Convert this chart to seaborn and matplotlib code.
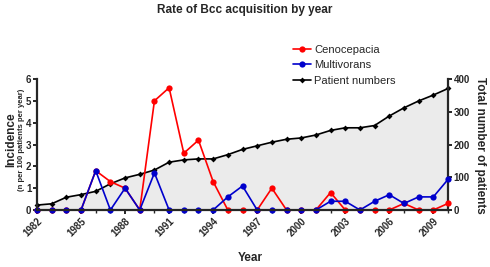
import numpy as np
import pandas as pd
import matplotlib
matplotlib.use("Agg")
import matplotlib.pyplot as plt
import seaborn as sns
from matplotlib.ticker import MultipleLocator

years = list(range(1982, 2011))
cenocepacia = [0, 0, 0, 0, 1.8, 1.3, 1.0, 0, 5.0, 5.6, 2.6, 3.2, 1.3, 0, 0,
               0, 1.0, 0, 0, 0, 0.8, 0, 0, 0, 0, 0.3, 0, 0, 0.3]
multivorans = [0, 0, 0, 0, 1.8, 0, 1.0, 0, 1.7, 0, 0, 0, 0, 0.6, 1.1,
               0, 0, 0, 0, 0, 0.4, 0.4, 0, 0.4, 0.7, 0.3, 0.6, 0.6, 1.4]
patients = [15, 19, 39, 47, 57, 80, 98, 109, 122, 146, 153, 156, 156, 169, 185,
            196, 207, 216, 220, 229, 243, 251, 251, 258, 287, 312, 333, 351, 371]
xtick_years = list(range(1982, 2010, 3))

sns.set_style("ticks")
plt.rcParams['font.family'] = ['Liberation Sans', 'DejaVu Sans']
plt.rcParams['font.weight'] = 'bold'

df = pd.DataFrame({"year": years, "Cenocepacia": cenocepacia,
                   "Multivorans": multivorans, "Patient numbers": patients})

fig = plt.figure(figsize=(4.90, 2.67), dpi=100)
ax = fig.add_axes([37/490, 1-210/267, (448-37)/490, (210-79)/267])
ax2 = ax.twinx()
ax.set_zorder(ax2.get_zorder() + 1)
ax.patch.set_visible(False)

ax2.fill_between(df["year"], df["Patient numbers"], 0, color="#ebebeb", zorder=0)
sns.lineplot(data=df, x="year", y="Patient numbers", ax=ax2, color="black",
             marker="D", markersize=3, markeredgewidth=0, linewidth=1.2,
             clip_on=False, label="Patient numbers", legend=False)
sns.lineplot(data=df, x="year", y="Cenocepacia", ax=ax, color="#ff0000",
             marker="o", markersize=4.5, markeredgewidth=0, linewidth=1.2,
             clip_on=False, label="Cenocepacia", legend=False)
sns.lineplot(data=df, x="year", y="Multivorans", ax=ax, color="#0000cc",
             marker="o", markersize=4.5, markeredgewidth=0, linewidth=1.2,
             clip_on=False, label="Multivorans", legend=False)

ax.set_xlim(1982, 2010)
ax.set_ylim(0, 6)
ax2.set_ylim(0, 400)
ax.set_yticks(range(0, 7))
ax2.set_yticks(range(0, 401, 100))
ax.set_xticks(xtick_years)
ax.xaxis.set_minor_locator(MultipleLocator(1))

for a in (ax, ax2):
    for s in a.spines.values():
        s.set_linewidth(1.6)
    a.spines['top'].set_visible(False)
ax.spines['right'].set_visible(False)
ax2.spines['left'].set_visible(False)
ax2.spines['bottom'].set_visible(False)

ax.tick_params(axis='both', which='major', labelsize=7, width=1.4, length=3, pad=1)
ax.tick_params(axis='x', which='minor', width=1, length=2)
ax2.tick_params(axis='y', labelsize=7, width=1.4, length=3, pad=1)
plt.setp(ax.get_xticklabels(), rotation=45, ha='right', rotation_mode='anchor', fontweight='bold')
plt.setp(ax.get_yticklabels(), fontweight='bold')
plt.setp(ax2.get_yticklabels(), fontweight='bold')

ax.set_xlabel("")
ax.set_ylabel("")
ax2.set_ylabel("")

fig.text(0.5, 1-10/267, "Rate of Bcc acquisition by year", ha='center', va='center',
         fontsize=8.5, fontweight='bold')
fig.text(250/490, 1-258/267, "Year", ha='center', va='center', fontsize=8.5, fontweight='bold')
fig.text(11/490, 1-140/267, "Incidence", rotation=90, ha='center', va='center',
         fontsize=8.5, fontweight='bold')
fig.text(22/490, 1-140/267, "(n per 100 patients per year)", rotation=90, ha='center',
         va='center', fontsize=5.5, fontweight='bold')
fig.text(480/490, 1-145/267, "Total number of patients", rotation=270, ha='center',
         va='center', fontsize=8.5, fontweight='bold')

handles = ax.get_lines()[:2] + ax2.get_lines()[:1]
labels = ["Cenocepacia", "Multivorans", "Patient numbers"]
fig.legend(handles, labels, loc='upper left', bbox_to_anchor=(293/490, 1-45/267),
           frameon=False, handlelength=1.6, handletextpad=0.3,
           labelspacing=0.48, borderaxespad=0, borderpad=0,
           prop={'weight': 'normal', 'size': 8})

fig.savefig("out.png", dpi=100)
